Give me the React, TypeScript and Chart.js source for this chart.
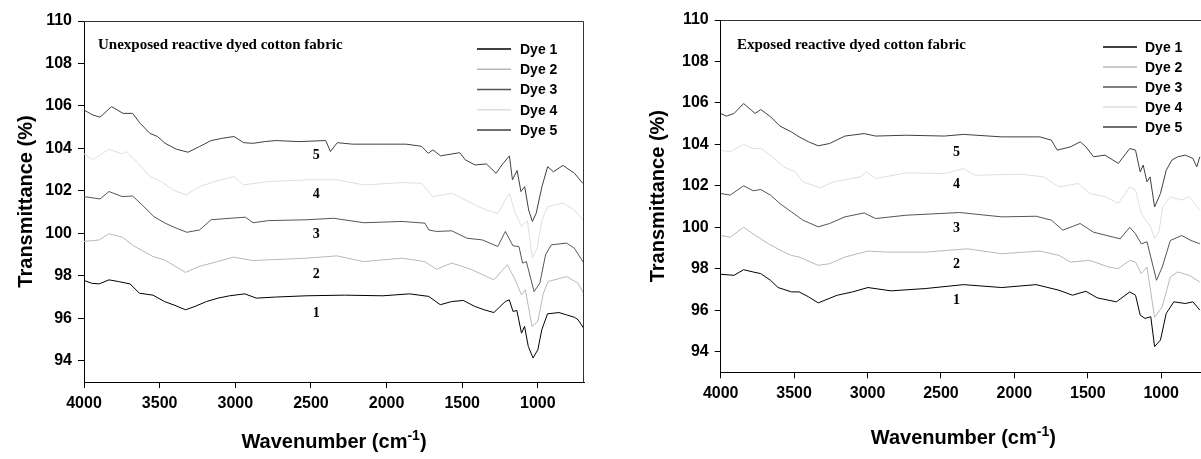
import { useEffect, useRef } from 'react';
import { Chart, registerables } from 'chart.js';

Chart.register(...registerables);

// ---------- shared ----------
const DYE_NAMES = ['Dye 1', 'Dye 2', 'Dye 3', 'Dye 4', 'Dye 5'];
const DYE_COLORS = ['#000000', '#b8b8b8', '#555555', '#dedede', '#404040'];
const CURVE_LABELS = ['1', '2', '3', '4', '5'];
const X_TICKS = [4000, 3500, 3000, 2500, 2000, 1500, 1000];
const Y_TICKS = [94, 96, 98, 100, 102, 104, 106, 108, 110];
const X_MIN = 695;
const X_MAX = 4000;
const Y_MIN = 93;
const Y_MAX = 110;

// ---------- left panel: unexposed ----------
const L1_WN = [4000, 3949, 3899, 3835, 3772, 3696, 3633, 3544, 3468, 3392, 3329, 3266, 3190, 3114, 3038, 2937, 2861, 2734, 2531, 2278, 2025, 1848, 1721, 1645, 1569, 1493, 1417, 1354, 1291, 1215, 1189, 1164, 1139, 1108, 1088, 1063, 1032, 1000, 974, 936, 860, 810, 759, 734, 696];
const L1_T = [97.78, 97.65, 97.62, 97.81, 97.73, 97.62, 97.18, 97.09, 96.79, 96.59, 96.4, 96.56, 96.79, 96.95, 97.06, 97.15, 96.95, 97.0, 97.06, 97.09, 97.06, 97.15, 97.03, 96.64, 96.79, 96.84, 96.56, 96.4, 96.27, 96.79, 96.87, 96.32, 96.37, 95.3, 95.62, 94.67, 94.13, 94.52, 95.46, 96.21, 96.27, 96.16, 96.05, 95.93, 95.52];

const L2_WN = [4000, 3899, 3835, 3747, 3671, 3544, 3468, 3329, 3240, 3139, 3012, 2886, 2531, 2329, 2152, 1898, 1747, 1671, 1569, 1443, 1291, 1202, 1152, 1108, 1083, 1038, 1000, 964, 932, 810, 734, 696];
const L2_T = [99.62, 99.69, 99.98, 99.82, 99.41, 98.91, 98.75, 98.16, 98.44, 98.63, 98.88, 98.72, 98.83, 98.94, 98.67, 98.83, 98.67, 98.31, 98.6, 98.31, 97.81, 98.52, 97.84, 97.1, 97.34, 95.62, 95.85, 97.18, 97.73, 97.97, 97.65, 97.15];

const L3_WN = [4000, 3894, 3835, 3747, 3679, 3616, 3540, 3464, 3388, 3320, 3236, 3160, 3034, 2933, 2882, 2781, 2528, 2351, 2149, 1898, 1746, 1721, 1671, 1569, 1468, 1367, 1265, 1215, 1164, 1125, 1101, 1076, 1025, 987, 949, 911, 810, 759, 696];
const L3_T = [101.73, 101.62, 101.97, 101.73, 101.76, 101.34, 100.8, 100.48, 100.24, 100.05, 100.16, 100.64, 100.71, 100.76, 100.5, 100.6, 100.64, 100.71, 100.5, 100.56, 100.48, 100.16, 100.09, 100.12, 99.77, 99.69, 99.38, 100.09, 99.41, 99.38, 98.6, 98.67, 97.26, 97.65, 98.99, 99.46, 99.54, 99.3, 98.6];

const L4_WN = [4000, 3944, 3835, 3747, 3722, 3641, 3565, 3489, 3413, 3325, 3236, 3135, 3009, 2945, 2781, 2528, 2326, 2149, 1896, 1769, 1694, 1567, 1415, 1340, 1264, 1188, 1150, 1107, 1070, 1036, 1005, 973, 935, 834, 758, 695];
const L4_T = [103.75, 103.46, 103.96, 103.74, 103.85, 103.3, 102.67, 102.44, 102.05, 101.81, 102.2, 102.44, 102.67, 102.28, 102.44, 102.52, 102.52, 102.28, 102.39, 102.36, 101.73, 101.89, 101.34, 101.1, 100.95, 101.89, 100.95, 100.32, 100.6, 98.85, 99.3, 100.64, 101.26, 101.42, 101.1, 100.56];

const L5_WN = [4000, 3944, 3894, 3818, 3742, 3679, 3628, 3565, 3514, 3464, 3388, 3312, 3236, 3160, 3084, 3009, 2945, 2882, 2806, 2730, 2579, 2402, 2371, 2326, 2225, 2022, 1871, 1769, 1724, 1694, 1643, 1517, 1479, 1415, 1340, 1276, 1238, 1188, 1168, 1137, 1112, 1087, 1061, 1036, 1011, 973, 935, 897, 834, 758, 707, 695];
const L5_T = [105.81, 105.58, 105.47, 105.97, 105.65, 105.65, 105.18, 104.71, 104.56, 104.24, 103.96, 103.82, 104.09, 104.37, 104.48, 104.56, 104.27, 104.24, 104.32, 104.37, 104.32, 104.37, 103.85, 104.27, 104.2, 104.2, 104.2, 104.1, 103.77, 103.93, 103.65, 103.8, 103.46, 103.22, 103.27, 102.83, 103.22, 103.65, 102.52, 102.96, 101.97, 102.2, 101.1, 100.56, 100.95, 102.2, 103.14, 102.9, 103.2, 102.83, 102.39, 102.36];

const LEFT_LABEL_WN = 2465;
const LEFT_LABEL_T = [96.24, 98.05, 99.93, 101.84, 103.65];

// ---------- right panel: exposed ----------
const R1_WN = [4000, 3909, 3844, 3779, 3727, 3661, 3609, 3518, 3466, 3401, 3336, 3206, 3102, 2997, 2841, 2607, 2346, 2086, 1852, 1696, 1604, 1513, 1435, 1305, 1214, 1175, 1143, 1110, 1071, 1045, 1005, 966, 914, 836, 784, 737];
const R1_T = [97.73, 97.68, 97.95, 97.84, 97.76, 97.44, 97.09, 96.88, 96.88, 96.64, 96.35, 96.72, 96.88, 97.09, 96.93, 97.04, 97.23, 97.09, 97.23, 96.96, 96.72, 96.91, 96.59, 96.4, 96.88, 96.72, 95.76, 95.6, 95.68, 94.24, 94.56, 95.84, 96.4, 96.32, 96.4, 96.0];

const R2_WN = [4000, 3935, 3844, 3779, 3674, 3570, 3518, 3466, 3336, 3258, 3154, 2997, 2867, 2607, 2320, 2086, 1826, 1696, 1617, 1487, 1357, 1292, 1214, 1175, 1136, 1097, 1045, 993, 938, 888, 810, 737];
const R2_T = [99.6, 99.52, 100.0, 99.68, 99.2, 98.8, 98.64, 98.56, 98.16, 98.24, 98.56, 98.85, 98.8, 98.8, 98.96, 98.72, 98.85, 98.64, 98.32, 98.4, 98.08, 98.0, 98.4, 98.32, 97.76, 98.08, 95.65, 96.16, 97.6, 97.84, 97.68, 97.36];

const R3_WN = [4000, 3935, 3844, 3779, 3727, 3661, 3596, 3518, 3440, 3336, 3258, 3154, 3023, 2945, 2737, 2372, 2086, 1852, 1748, 1670, 1552, 1461, 1279, 1214, 1175, 1136, 1097, 1032, 993, 938, 861, 797, 737];
const R3_T = [101.63, 101.55, 102.0, 101.76, 101.82, 101.55, 101.14, 100.74, 100.34, 100.02, 100.18, 100.5, 100.69, 100.42, 100.58, 100.71, 100.5, 100.53, 100.34, 99.86, 100.18, 99.76, 99.44, 100.0, 99.68, 99.2, 99.3, 97.44, 98.08, 99.36, 99.6, 99.36, 99.2];

const R4_WN = [4000, 3935, 3844, 3779, 3727, 3648, 3570, 3492, 3440, 3323, 3232, 3050, 3010, 2945, 2737, 2477, 2346, 2268, 1956, 1800, 1696, 1565, 1487, 1383, 1292, 1214, 1175, 1136, 1071, 1045, 1015, 990, 938, 861, 810, 737];
const R4_T = [103.72, 103.64, 104.0, 103.8, 103.8, 103.4, 102.91, 102.67, 102.19, 101.9, 102.19, 102.43, 102.67, 102.35, 102.62, 102.59, 102.83, 102.51, 102.56, 102.43, 101.95, 102.11, 101.63, 101.47, 101.15, 101.95, 101.8, 100.66, 100.0, 99.45, 99.8, 100.98, 101.47, 101.31, 101.47, 100.82];

const R5_WN = [4000, 3961, 3909, 3844, 3792, 3766, 3727, 3661, 3596, 3518, 3466, 3401, 3336, 3258, 3154, 3023, 2945, 2737, 2477, 2346, 2086, 1826, 1748, 1708, 1617, 1552, 1513, 1461, 1383, 1292, 1214, 1175, 1143, 1123, 1097, 1076, 1045, 1005, 966, 927, 888, 836, 784, 758, 737];
const R5_T = [105.49, 105.36, 105.49, 105.97, 105.65, 105.49, 105.68, 105.33, 104.88, 104.6, 104.36, 104.12, 103.93, 104.04, 104.4, 104.52, 104.4, 104.44, 104.4, 104.48, 104.36, 104.36, 104.2, 103.72, 103.88, 104.12, 103.88, 103.4, 103.48, 103.08, 103.8, 103.72, 102.67, 103.0, 102.19, 102.43, 100.98, 101.63, 102.75, 103.24, 103.4, 103.48, 103.32, 102.91, 103.4];

const RIGHT_LABEL_WN = 2395;
const RIGHT_LABEL_T = [96.45, 98.2, 99.95, 102.05, 103.6];

const SANS = '"Liberation Sans", Arial, Helvetica, sans-serif';
const SERIF = '"Liberation Serif", "Times New Roman", serif';

type Series = { wn: number[]; t: number[] };

interface PanelProps {
  left: number;
  width: number;
  height: number;
  padding: { left: number; top: number; right: number; bottom: number };
  yAxisWidth: number;
  xAxisHeight: number;
  yTitlePad: number;
  xTitleY: number;
  caption: string;
  captionX: number;
  captionY: number;
  series: Series[];
  labelWn: number;
  labelT: number[];
  legendLineX0: number;
  legendLineX1: number;
  legendTextX: number;
  legendY0: number;
  legendStep: number;
}

function Panel(p: PanelProps) {
  const ref = useRef<HTMLCanvasElement | null>(null);

  useEffect(() => {
    const canvas = ref.current;
    if (!canvas) return;

    const datasets = p.series.map((s, i) => ({
      label: DYE_NAMES[i],
      data: s.wn.map((w, j) => ({ x: w, y: s.t[j] })),
      borderColor: DYE_COLORS[i],
      backgroundColor: DYE_COLORS[i],
      borderWidth: 1,
      pointRadius: 0,
      tension: 0,
      fill: false,
    }));

    const overlay = {
      id: 'overlay',
      afterDraw(chart: any) {
        const ctx = chart.ctx as CanvasRenderingContext2D;
        const a = chart.chartArea;
        const xs = chart.scales.x;
        const ys = chart.scales.y;
        ctx.save();
        // frame (top + right)
        ctx.strokeStyle = '#333333';
        ctx.lineWidth = 1;
        ctx.beginPath();
        ctx.moveTo(a.left, a.top + 0.5);
        ctx.lineTo(a.right - 0.5, a.top + 0.5);
        ctx.lineTo(a.right - 0.5, a.bottom);
        ctx.stroke();

        // caption
        ctx.fillStyle = '#000';
        ctx.font = `bold 15px ${SERIF}`;
        ctx.textAlign = 'left';
        ctx.textBaseline = 'middle';
        ctx.fillText(p.caption, p.captionX, p.captionY);

        // curve numbers
        ctx.font = `bold 14px ${SERIF}`;
        ctx.textAlign = 'center';
        CURVE_LABELS.forEach((t, i) => {
          ctx.fillText(t, xs.getPixelForValue(p.labelWn), ys.getPixelForValue(p.labelT[i]));
        });

        // legend
        ctx.font = `bold 14px ${SANS}`;
        ctx.textAlign = 'left';
        DYE_NAMES.forEach((name, i) => {
          const y = p.legendY0 + i * p.legendStep;
          ctx.strokeStyle = DYE_COLORS[i];
          ctx.lineWidth = 1.3;
          ctx.beginPath();
          ctx.moveTo(p.legendLineX0, y);
          ctx.lineTo(p.legendLineX1, y);
          ctx.stroke();
          ctx.fillStyle = '#000';
          ctx.fillText(name, p.legendTextX, y + 1);
        });

        // x title with superscript
        const main = 'Wavenumber (cm';
        const sup = '-1';
        const close = ')';
        ctx.textBaseline = 'alphabetic';
        ctx.font = `bold 20px ${SANS}`;
        const w1 = ctx.measureText(main).width;
        const w3 = ctx.measureText(close).width;
        ctx.font = `bold 14px ${SANS}`;
        const w2 = ctx.measureText(sup).width;
        const cx = (a.left + a.right) / 2;
        let x = cx - (w1 + w2 + w3) / 2;
        const base = p.xTitleY + 7;
        ctx.font = `bold 20px ${SANS}`;
        ctx.fillText(main, x, base);
        x += w1;
        ctx.font = `bold 14px ${SANS}`;
        ctx.fillText(sup, x, base - 8);
        x += w2;
        ctx.font = `bold 20px ${SANS}`;
        ctx.fillText(close, x, base);
        ctx.restore();
      },
    };

    const chart = new Chart(canvas, {
      type: 'line',
      data: { datasets },
      options: {
        animation: false,
        responsive: false,
        devicePixelRatio: 1,
        layout: { padding: p.padding },
        plugins: { legend: { display: false }, tooltip: { enabled: false } },
        scales: {
          x: {
            type: 'linear',
            reverse: true,
            min: X_MIN,
            max: X_MAX,
            afterBuildTicks: (s: any) => {
              s.ticks = [...X_TICKS].sort((m, n) => m - n).map((v) => ({ value: v }));
            },
            afterFit: (s: any) => {
              s.height = p.xAxisHeight;
            },
            ticks: {
              autoSkip: false,
              maxRotation: 0,
              color: '#000',
              padding: 6,
              font: { family: SANS, size: 16, weight: 'bold' },
              callback: (v: any) => String(v),
            },
            grid: { display: true, drawOnChartArea: false, drawTicks: true, tickLength: 6, color: '#000' },
            border: { display: true, color: '#000', width: 1 },
          },
          y: {
            type: 'linear',
            min: Y_MIN,
            max: Y_MAX,
            afterBuildTicks: (s: any) => {
              s.ticks = Y_TICKS.map((v) => ({ value: v }));
            },
            afterFit: (s: any) => {
              s.width = p.yAxisWidth;
            },
            ticks: {
              color: '#000',
              padding: 6,
              font: { family: SANS, size: 16, weight: 'bold' },
              callback: (v: any) => String(v),
            },
            grid: { display: true, drawOnChartArea: false, drawTicks: true, tickLength: 6, color: '#000' },
            border: { display: true, color: '#000', width: 1 },
            title: {
              display: true,
              text: 'Transmittance (%)',
              color: '#000',
              font: { family: SANS, size: 20, weight: 'bold' },
              padding: { top: p.yTitlePad, bottom: 0 },
            },
          },
        },
      } as any,
      plugins: [overlay],
    });

    return () => chart.destroy();
  }, []);

  return (
    <canvas
      ref={ref}
      width={p.width}
      height={p.height}
      style={{ position: 'absolute', left: p.left, top: 0, width: p.width, height: p.height }}
    />
  );
}

export default function App() {
  const leftSeries: Series[] = [
    { wn: L1_WN, t: L1_T },
    { wn: L2_WN, t: L2_T },
    { wn: L3_WN, t: L3_T },
    { wn: L4_WN, t: L4_T },
    { wn: L5_WN, t: L5_T },
  ];
  const rightSeries: Series[] = [
    { wn: R1_WN, t: R1_T },
    { wn: R2_WN, t: R2_T },
    { wn: R3_WN, t: R3_T },
    { wn: R4_WN, t: R4_T },
    { wn: R5_WN, t: R5_T },
  ];
  return (
    <div
      style={{
        position: 'fixed',
        left: 0,
        top: 0,
        width: 1201,
        height: 459,
        overflow: 'hidden',
        background: '#fff',
      }}
    >
      <Panel
        left={0}
        width={600}
        height={459}
        padding={{ left: 0, top: 21, right: 16, bottom: 0 }}
        yAxisWidth={84}
        xAxisHeight={77}
        yTitlePad={14}
        xTitleY={441}
        caption="Unexposed reactive dyed cotton fabric"
        captionX={98}
        captionY={45}
        series={leftSeries}
        labelWn={LEFT_LABEL_WN}
        labelT={LEFT_LABEL_T}
        legendLineX0={477}
        legendLineX1={511}
        legendTextX={520}
        legendY0={49}
        legendStep={20.25}
      />
      <Panel
        left={600}
        width={620}
        height={459}
        padding={{ left: 0, top: 20, right: 14, bottom: 0 }}
        yAxisWidth={120.7}
        xAxisHeight={86.7}
        yTitlePad={46}
        xTitleY={437}
        caption="Exposed reactive dyed cotton fabric"
        captionX={137}
        captionY={45}
        series={rightSeries}
        labelWn={RIGHT_LABEL_WN}
        labelT={RIGHT_LABEL_T}
        legendLineX0={503}
        legendLineX1={537}
        legendTextX={545}
        legendY0={47}
        legendStep={20}
      />
    </div>
  );
}
